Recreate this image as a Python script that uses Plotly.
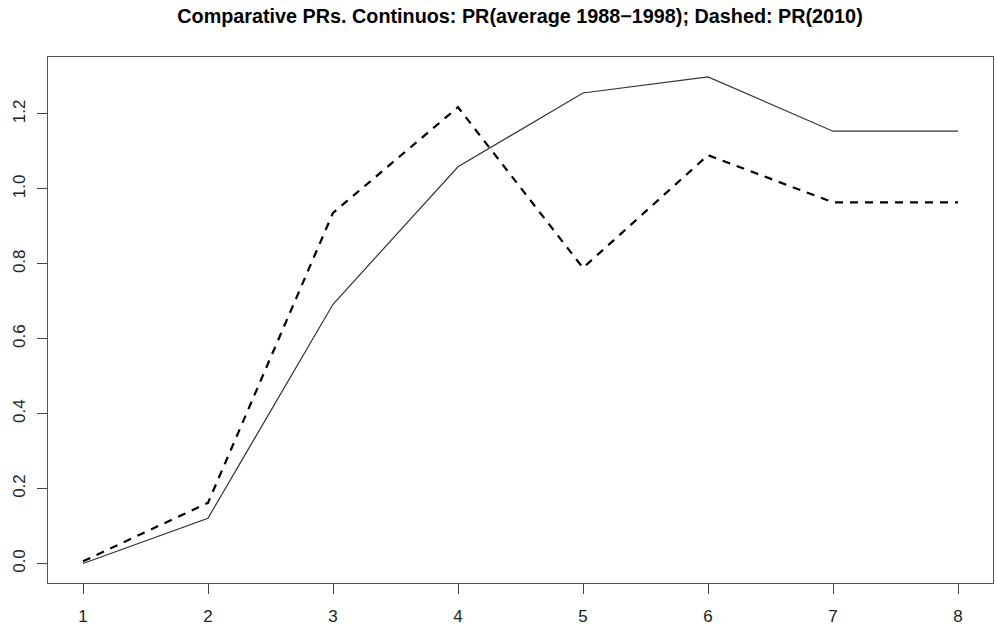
import plotly.graph_objects as go

x_vals = [1, 2, 3, 4, 5, 6, 7, 8]
pr_average_1988_1998 = [0.0, 0.121, 0.692, 1.059, 1.256, 1.299, 1.154, 1.154]
pr_2010 = [0.006, 0.162, 0.936, 1.218, 0.789, 1.090, 0.964, 0.964]
x_ticks = [1, 2, 3, 4, 5, 6, 7, 8]
y_ticks = [0.0, 0.2, 0.4, 0.6, 0.8, 1.0, 1.2]
y_tick_text = ["0.0", "0.2", "0.4", "0.6", "0.8", "1.0", "1.2"]
title_text = "Comparative PRs. Continuos: PR(average 1988\u22121998); Dashed: PR(2010)"

fig = go.Figure()
fig.add_trace(go.Scatter(x=x_vals, y=pr_average_1988_1998, mode="lines",
                         line=dict(color="#333333", width=1.2), showlegend=False))
fig.add_trace(go.Scatter(x=x_vals, y=pr_2010, mode="lines",
                         line=dict(color="black", width=2.2, dash="8px,7px"), showlegend=False))

font_family = "Liberation Sans, Arial, sans-serif"
fig.update_layout(
    width=997, height=629,
    margin=dict(l=48, r=4, t=57, b=46),
    paper_bgcolor="white", plot_bgcolor="white",
    title=dict(text="<b>" + title_text + "</b>", x=520 / 997, xanchor="center",
               y=1 - 16 / 629, yanchor="middle",
               font=dict(family=font_family, size=19.8, color="black")),
    font=dict(family=font_family, color="#222222"),
)
fig.update_xaxes(range=[0.72, 8.28], tickvals=x_ticks, ticktext=[str(v) for v in x_ticks],
                 showgrid=False, zeroline=False, showline=True, mirror=True,
                 linecolor="#555555", linewidth=1.2,
                 ticks="outside", ticklen=10, tickcolor="#444444", tickwidth=1.2,
                 ticklabelstandoff=7,
                 tickfont=dict(size=17, family=font_family, color="#222222"))
fig.update_yaxes(range=[-0.052, 1.352], tickvals=y_ticks, ticktext=y_tick_text,
                 showgrid=False, zeroline=False, showline=True, mirror=True,
                 linecolor="#555555", linewidth=1.2,
                 ticks="outside", ticklen=10, tickcolor="#444444", tickwidth=1.2,
                 tickangle=-90, ticklabelstandoff=5,
                 tickfont=dict(size=17, family=font_family, color="#222222"))

fig.write_html("out.html")
